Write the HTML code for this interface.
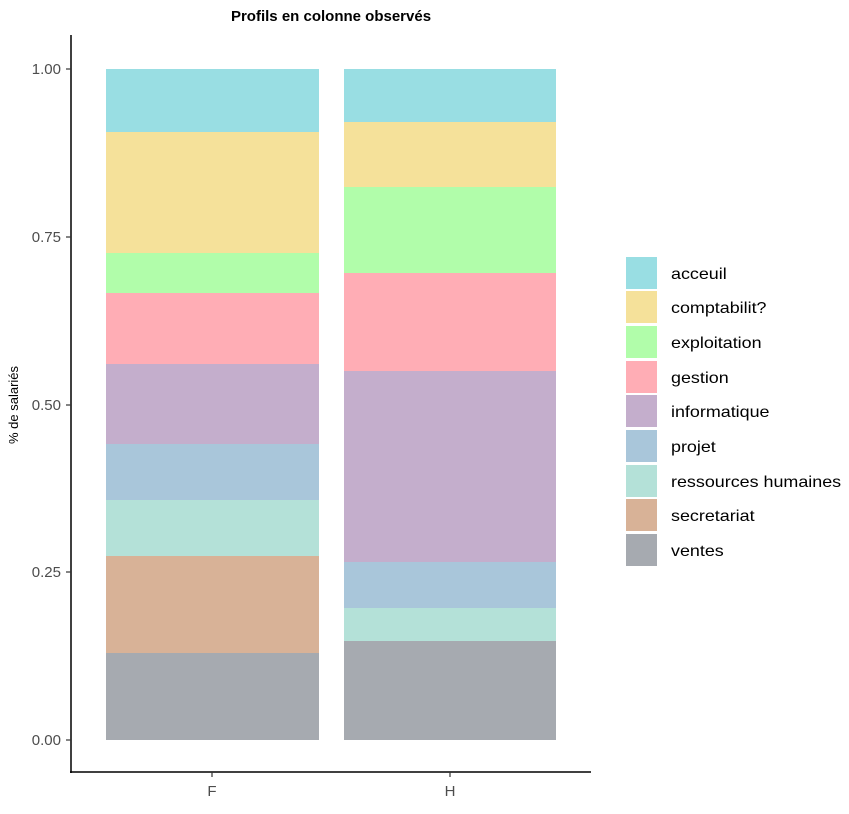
<!DOCTYPE html>
<html><head><meta charset="utf-8"><style>
body{margin:0;background:#fff}
svg text{font-family:"Liberation Sans",sans-serif}
</style></head><body>
<svg width="849" height="809" viewBox="0 0 849 809" xmlns="http://www.w3.org/2000/svg">
<rect width="849" height="809" fill="#fff"/>
<text x="331" y="21" text-anchor="middle" font-size="15" font-weight="bold" fill="#000">Profils en colonne observés</text>
<rect x="106" y="653" width="213" height="87" fill="#A6AAB0"/>
<rect x="106" y="556" width="213" height="97" fill="#D8B297"/>
<rect x="106" y="500" width="213" height="56" fill="#B4E1D8"/>
<rect x="106" y="444" width="213" height="56" fill="#A9C6DA"/>
<rect x="106" y="364" width="213" height="80" fill="#C4AECC"/>
<rect x="106" y="293" width="213" height="71" fill="#FFADB5"/>
<rect x="106" y="253" width="213" height="40" fill="#B1FDAA"/>
<rect x="106" y="132" width="213" height="121" fill="#F5E19A"/>
<rect x="106" y="69" width="213" height="63" fill="#99DEE3"/>
<rect x="344" y="641" width="212" height="99" fill="#A6AAB0"/>
<rect x="344" y="608" width="212" height="33" fill="#B4E1D8"/>
<rect x="344" y="562" width="212" height="46" fill="#A9C6DA"/>
<rect x="344" y="371" width="212" height="191" fill="#C4AECC"/>
<rect x="344" y="273" width="212" height="98" fill="#FFADB5"/>
<rect x="344" y="187" width="212" height="86" fill="#B1FDAA"/>
<rect x="344" y="122" width="212" height="65" fill="#F5E19A"/>
<rect x="344" y="69" width="212" height="53" fill="#99DEE3"/>
<line x1="71" y1="35" x2="71" y2="773" stroke="#000" stroke-width="1.5"/>
<line x1="70" y1="772" x2="591" y2="772" stroke="#000" stroke-width="1.5"/>
<g stroke="#333" stroke-width="1.2">
<line x1="66" y1="69" x2="71" y2="69"/><line x1="66" y1="237" x2="71" y2="237"/>
<line x1="66" y1="405" x2="71" y2="405"/><line x1="66" y1="572" x2="71" y2="572"/>
<line x1="66" y1="740" x2="71" y2="740"/>
<line x1="212" y1="772" x2="212" y2="777"/><line x1="450" y1="772" x2="450" y2="777"/>
</g>
<g font-size="15" fill="#4d4d4d" text-anchor="end">
<text x="61" y="74">1.00</text><text x="61" y="242">0.75</text><text x="61" y="410">0.50</text>
<text x="61" y="577">0.25</text><text x="61" y="745">0.00</text>
</g>
<text x="212" y="796" font-size="15" fill="#4d4d4d" text-anchor="middle">F</text>
<text x="450" y="796" font-size="15" fill="#4d4d4d" text-anchor="middle">H</text>
<text transform="translate(18,405) rotate(-90)" font-size="13" fill="#000" text-anchor="middle">% de salariés</text>
<rect x="626" y="257" width="31" height="32" fill="#99DEE3"/>
<rect x="626" y="291" width="31" height="32" fill="#F5E19A"/>
<rect x="626" y="326" width="31" height="32" fill="#B1FDAA"/>
<rect x="626" y="361" width="31" height="32" fill="#FFADB5"/>
<rect x="626" y="395" width="31" height="32" fill="#C4AECC"/>
<rect x="626" y="430" width="31" height="32" fill="#A9C6DA"/>
<rect x="626" y="465" width="31" height="32" fill="#B4E1D8"/>
<rect x="626" y="499" width="31" height="32" fill="#D8B297"/>
<rect x="626" y="534" width="31" height="32" fill="#A6AAB0"/>
<g font-size="16" fill="#000" transform="translate(671,0) scale(1.12,1)">
<text x="0" y="279">acceuil</text>
<text x="0" y="313">comptabilit?</text>
<text x="0" y="348">exploitation</text>
<text x="0" y="383">gestion</text>
<text x="0" y="417">informatique</text>
<text x="0" y="452">projet</text>
<text x="0" y="487">ressources humaines</text>
<text x="0" y="521">secretariat</text>
<text x="0" y="556">ventes</text>
</g>
</svg>
</body></html>
